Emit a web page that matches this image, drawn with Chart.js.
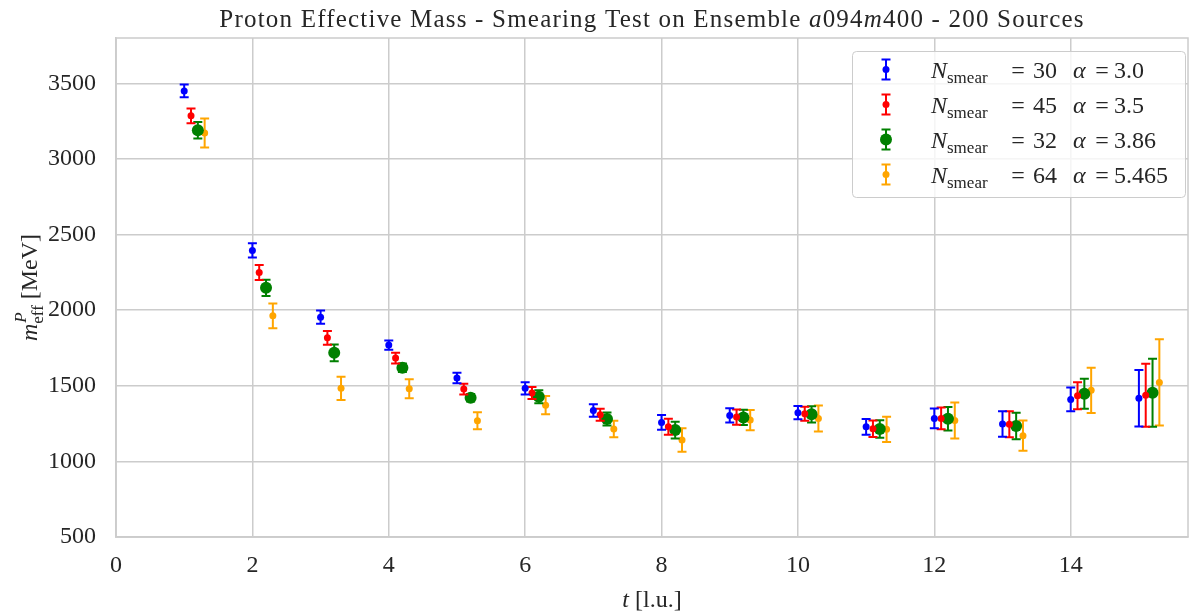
<!DOCTYPE html>
<html>
<head>
<meta charset="utf-8">
<script src="https://cdn.jsdelivr.net/npm/chart.js@4.4.1/dist/chart.umd.min.js"></script>
<style>
  html, body { margin: 0; padding: 0; background: #ffffff; }
  #wrap { width: 1194px; height: 615px; }
</style>
</head>
<body>
<div id="wrap"><canvas id="chart" width="1194" height="615"></canvas></div>
<script>
// time slices (lattice units)
const tSteps = [1, 2, 3, 4, 5, 6, 7, 8, 9, 10, 11, 12, 13, 14, 15];

// effective mass [MeV] and errors, one pair per smearing setup
const massN30 = [3450, 2395, 1954, 1769, 1551, 1483, 1337, 1258, 1304, 1322, 1229, 1284, 1247, 1410, 1417];
const errN30  = [42, 47, 44, 30, 35, 40, 41, 48, 47, 44, 52, 65, 84, 79, 187];

const massN45 = [3285, 2249, 1817, 1683, 1478, 1452, 1308, 1229, 1293, 1315, 1216, 1284, 1245, 1434, 1437];
const errN45  = [48, 50, 46, 35, 35, 40, 40, 53, 50, 46, 55, 72, 86, 89, 208];

const massN32 = [3190, 2148, 1718, 1619, 1421, 1427, 1280, 1207, 1291, 1311, 1214, 1282, 1234, 1447, 1454];
const errN32  = [55, 54, 55, 28, 25, 43, 43, 55, 51, 53, 58, 77, 88, 99, 225];

const massN64 = [3172, 1963, 1483, 1480, 1269, 1372, 1214, 1141, 1273, 1284, 1212, 1271, 1170, 1470, 1522];
const errN64  = [96, 82, 77, 63, 56, 60, 55, 78, 67, 86, 83, 119, 100, 150, 285];

// legend text
const nSmearLabels = ['30', '45', '32', '64'];
const alphaLabels  = ['3.0', '3.5', '3.86', '5.465'];

// axis ticks
const xTicks = [0, 2, 4, 6, 8, 10, 12, 14];
const yTicks = [500, 1000, 1500, 2000, 2500, 3000, 3500];

const SERIF = "'Liberation Serif', 'Times New Roman', serif";
const TEXT = '#262626';
const GRID = '#cccccc';

const series = [
  { mass: massN30, err: errN30, color: '#0000ff', shift: 0.0, r: 3.5 },
  { mass: massN45, err: errN45, color: '#ff0000', shift: 0.1, r: 3.5 },
  { mass: massN32, err: errN32, color: '#008000', shift: 0.2, r: 6 },
  { mass: massN64, err: errN64, color: '#ffa500', shift: 0.3, r: 3.5 }
];

const datasets = series.map((s, k) => ({
  label: 'N' + nSmearLabels[k],
  data: tSteps.map((t, i) => ({ x: t + s.shift, y: s.mass[i] })),
  errors: s.err,
  backgroundColor: s.color,
  borderColor: s.color,
  pointRadius: s.r,
  pointHoverRadius: s.r,
  pointBorderWidth: 0,
  showLine: false
}));

// draw rich text runs: [{t, font, dy}]
function drawRuns(ctx, runs, x, y) {
  let cx = x;
  runs.forEach(r => {
    ctx.font = r.font;
    ctx.fillText(r.t, cx, y + (r.dy || 0));
    cx += ctx.measureText(r.t).width;
  });
  return cx - x;
}
function runsWidth(ctx, runs) {
  let w = 0;
  runs.forEach(r => { ctx.font = r.font; w += ctx.measureText(r.t).width; });
  return w;
}

function drawErrorBar(ctx, x, yTop, yBot, color) {
  const cap = 4.5;
  ctx.save();
  ctx.strokeStyle = color;
  ctx.lineWidth = 2;
  ctx.beginPath();
  ctx.moveTo(x, yTop); ctx.lineTo(x, yBot);
  ctx.moveTo(x - cap, yTop); ctx.lineTo(x + cap, yTop);
  ctx.moveTo(x - cap, yBot); ctx.lineTo(x + cap, yBot);
  ctx.stroke();
  ctx.restore();
}

const errorBars = {
  id: 'errorBars',
  beforeDatasetDraw(chart, args) {
    const ds = chart.data.datasets[args.index];
    const ys = chart.scales.y;
    const ctx = chart.ctx;
    args.meta.data.forEach((pt, i) => {
      const v = ds.data[i].y, e = ds.errors[i];
      drawErrorBar(ctx, pt.x, ys.getPixelForValue(v + e), ys.getPixelForValue(v - e), ds.borderColor);
    });
  }
};

const frame = {
  id: 'frame',
  beforeDatasetsDraw(chart) {
    const a = chart.chartArea, ctx = chart.ctx;
    ctx.save();
    ctx.strokeStyle = GRID;
    ctx.lineWidth = 1.5;
    ctx.strokeRect(a.left, a.top, a.right - a.left, a.bottom - a.top);
    ctx.restore();
  }
};

const texts = {
  id: 'texts',
  afterDraw(chart) {
    const ctx = chart.ctx;
    const a = chart.chartArea;
    ctx.save();
    ctx.fillStyle = TEXT;
    ctx.textBaseline = 'alphabetic';
    ctx.textAlign = 'left';

    // title
    const tf = '25px ' + SERIF, tfi = 'italic 25px ' + SERIF;
    const title = [
      { t: 'Proton Effective Mass - Smearing Test on Ensemble ', font: tf },
      { t: 'a', font: tfi }, { t: '094', font: tf }, { t: 'm', font: tfi }, { t: '400', font: tf },
      { t: ' - 200 Sources', font: tf }
    ];
    const cxm = (a.left + a.right) / 2;
    ctx.letterSpacing = '1.2px';
    drawRuns(ctx, title, cxm - runsWidth(ctx, title) / 2, 27);
    ctx.letterSpacing = '0px';

    // x axis title
    const f = '24px ' + SERIF, fi = 'italic 24px ' + SERIF;
    const xt = [{ t: 't', font: fi }, { t: ' [l.u.]', font: f }];
    drawRuns(ctx, xt, cxm - runsWidth(ctx, xt) / 2, 607);

    // y axis title (rotated)
    ctx.translate(37, (a.top + a.bottom) / 2);
    ctx.rotate(-Math.PI / 2);
    const sup = 'italic 17px ' + SERIF, sub = '17px ' + SERIF;
    ctx.font = fi;
    const mw = ctx.measureText('m').width;
    ctx.font = sup;
    const pw = ctx.measureText('P').width;
    ctx.font = sub;
    const ew = ctx.measureText('eff').width;
    ctx.font = f;
    const bw = ctx.measureText(' [MeV]').width;
    const total = mw + Math.max(pw, ew) + bw;
    const x0 = -total / 2;
    ctx.font = fi; ctx.fillText('m', x0, 0);
    ctx.font = sup; ctx.fillText('P', x0 + mw + 1, -11);
    ctx.font = sub; ctx.fillText('eff', x0 + mw, 6);
    ctx.font = f; ctx.fillText(' [MeV]', x0 + mw + Math.max(pw, ew), 0);
    ctx.restore();

    // legend
    ctx.save();
    const lx = 852, ly = 51, lw = 333, lh = 146;
    ctx.fillStyle = 'rgba(255,255,255,0.8)';
    ctx.strokeStyle = GRID;
    ctx.lineWidth = 1;
    ctx.beginPath();
    ctx.roundRect(lx + 0.5, ly + 0.5, lw, lh, 4);
    ctx.fill();
    ctx.stroke();
    series.forEach((s, k) => {
      const cy = 69.5 + k * 35;
      drawErrorBar(ctx, 886, cy - 10, cy + 10, s.color);
      ctx.fillStyle = s.color;
      ctx.beginPath();
      ctx.arc(886, cy, s.r, 0, Math.PI * 2);
      ctx.fill();
      ctx.fillStyle = TEXT;
      const base = cy + 8;
      drawRuns(ctx, [{ t: 'N', font: fi }, { t: 'smear', font: '17px ' + SERIF, dy: 5 }], 931, base);
      ctx.font = f;
      ctx.textAlign = 'center';
      ctx.fillText('=', 1018, base);
      ctx.fillText('=', 1102, base);
      ctx.textAlign = 'left';
      ctx.fillText(nSmearLabels[k], 1033, base);
      ctx.fillText(alphaLabels[k], 1114, base);
      ctx.font = fi;
      ctx.fillText('\u03b1', 1073, base);
    });
    ctx.restore();
  }
};

new Chart(document.getElementById('chart'), {
  type: 'scatter',
  data: { datasets },
  plugins: [frame, errorBars, texts],
  options: {
    responsive: false,
    animation: false,
    devicePixelRatio: 1,
    layout: { padding: { left: 0, right: 4, top: 38, bottom: 0 } },
    plugins: {
      legend: { display: false },
      title: { display: false },
      tooltip: { enabled: false }
    },
    scales: {
      x: {
        type: 'linear',
        min: 0,
        max: 15.72,
        afterFit(scale) { scale.height = 78; },
        afterBuildTicks(scale) { scale.ticks = xTicks.map(v => ({ value: v })); },
        grid: { color: GRID, lineWidth: 1.5, drawTicks: false },
        border: { color: GRID, width: 1.5 },
        ticks: { color: TEXT, font: { family: SERIF, size: 24 }, padding: 14, maxRotation: 0,
                 callback: v => String(v) }
      },
      y: {
        type: 'linear',
        min: 500,
        max: 3800,
        afterFit(scale) { scale.width = 116; },
        afterBuildTicks(scale) { scale.ticks = yTicks.map(v => ({ value: v })); },
        grid: { color: GRID, lineWidth: 1.5, drawTicks: false },
        border: { color: GRID, width: 1.5 },
        ticks: { color: TEXT, font: { family: SERIF, size: 24 }, padding: 20,
                 callback: v => String(v) }
      }
    }
  }
});
</script>
</body>
</html>
